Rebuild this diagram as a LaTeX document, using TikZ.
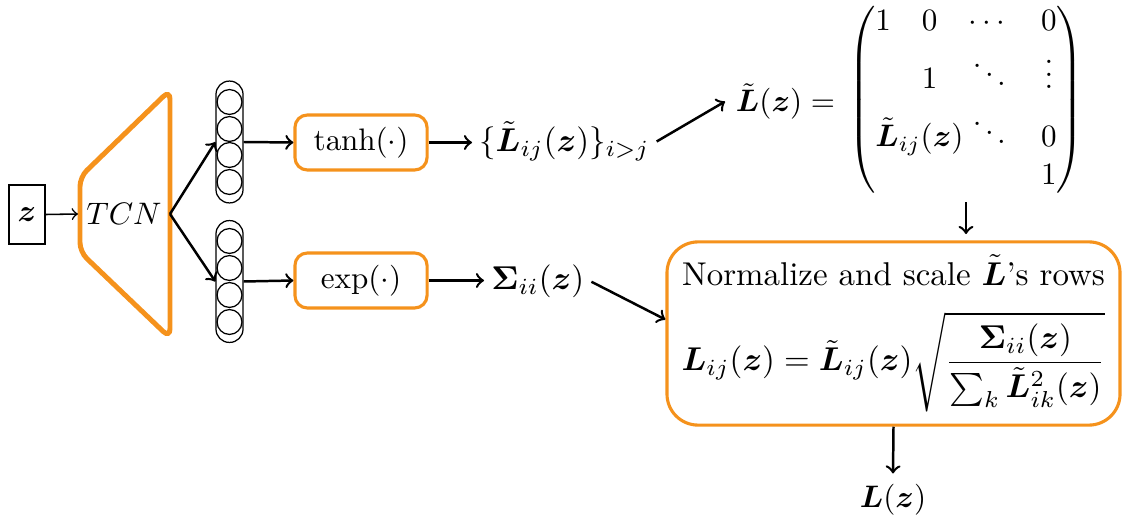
\documentclass[tikz,border=0pt]{standalone}
\usepackage{amsmath,bm}
\usetikzlibrary{positioning}
\definecolor{tcnorange}{RGB}{245,146,28}

\begin{document}
\begin{tikzpicture}[x=0.0113cm,y=-0.0113cm,
  obox/.style={draw=tcnorange, line width=1pt, rounded corners=4pt, minimum width=42.5pt, minimum height=17.7pt, inner sep=2pt},
  stack/.style={draw, rounded corners=4.3pt, minimum width=8.7pt, minimum height=39.2pt, inner sep=0pt},
  neuron/.style={draw, circle, minimum size=8pt, inner sep=0pt},
  bigger/.style={scale=1.06, transform shape},
  arr/.style={->, thick}]
\useasboundingbox (0,0) rectangle (1126,524);
% input and TCN block
\node[draw, minimum width=11.6pt, minimum height=19pt, inner sep=1pt] (z) at (27,214.5) {$\bm z$};
\draw[tcnorange, line width=1.6pt, rounded corners=3pt] (80,177) -- (170,90) -- (170,338) -- (80,252) -- cycle;
\node (tcn) at (124,214) {$TCN$};
\coordinate (tcnin) at (78,214);
\coordinate (tcnout) at (170,214);
% output layers
\node[stack] (stacka) at (229.5,142) {};
\node[stack] (stackb) at (229.5,281.5) {};
\foreach \y in {102,129,155,182} \node[neuron] at (229.5,\y) {};
\foreach \y in {241,268,295,322} \node[neuron] at (229.5,\y) {};
\node[obox] (tanhbox) at (361,142.5) {$\tanh(\cdot)$};
\node[obox] (expbox) at (361,280.5) {$\exp(\cdot)$};
\node[bigger, anchor=base west, inner sep=2pt] (lset) at (472,152) {$\{\tilde{\bm L}_{ij}(\bm z)\}_{i>j}$};
\node[bigger, anchor=base west, inner sep=2pt] (sig) at (484,290) {$\bm\Sigma_{ii}(\bm z)$};
% lower-triangular matrix
\node[anchor=base west] (lhs) at (725,112) {$\tilde{\bm L}(\bm z) =$};
\node[inner sep=0pt] (mat) at (966,100) {$\begin{pmatrix}
1 & 0 & \cdots & 0\\
 & 1 & \ddots & \vdots\\
\multicolumn{1}{l}{\rlap{$\tilde{\bm L}_{ij}(\bm z)$}} & & \ddots & 0\\
 & & & 1
\end{pmatrix}$};
\node[bigger, draw=tcnorange, line width=1pt, rounded corners=10pt, align=center, minimum width=137.5pt, minimum height=55.6pt, inner sep=2.5pt] (normbox) at (893.5,333.5)
  {Normalize and scale $\tilde{\bm L}$'s rows\\[7pt]
  $\displaystyle\bm L_{ij}(\bm z)=\tilde{\bm L}_{ij}(\bm z)\sqrt{\frac{\bm\Sigma_{ii}(\bm z)}{\sum_k\tilde{\bm L}^2_{ik}(\bm z)}}$};
\node (lz) at (893,500) {$\bm L(\bm z)$};
% connectors
\draw[->, line width=0.5pt] (z.east) -- (tcnin);
\draw[arr] (tcnout) -- (stacka.west);
\draw[arr] (tcnout) -- (stackb.west);
\draw[arr] (stacka.east) -- (tanhbox.west);
\draw[arr] (stackb.east) -- (expbox.west);
\draw[arr] (tanhbox.east) -- (tanhbox.east -| lset.west);
\draw[arr] (expbox.east) -- (expbox.east -| sig.west);
\draw[arr] (lset.east) -- (lhs.west);
\draw[arr, shorten <=2pt, shorten >=2pt] (mat.south) -- (mat.south |- normbox.north);
\draw[arr] (sig.east) -- ([yshift=4.5pt]normbox.west);
\draw[arr] (normbox.south) -- (lz.north);
\end{tikzpicture}
\end{document}
